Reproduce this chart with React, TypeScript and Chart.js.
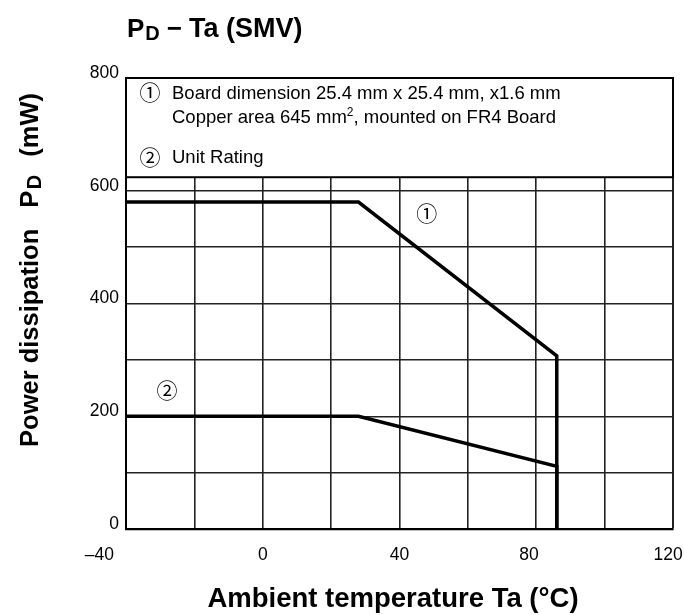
import React, { useEffect, useRef } from 'react';
import { Chart, registerables } from 'chart.js';

Chart.register(...registerables);

// ---- data ----
const curve1Ta = [-40, 28, 86, 86];
const curve1Pd = [580, 580, 307, 0];
const curve2Ta = [-40, 28, 86, 86];
const curve2Pd = [200, 200, 111, 0];

const xLabelValues = [-40, 0, 40, 80, 120];
const yLabelValues = [0, 200, 400, 600, 800];

const legendLine1 = 'Board dimension 25.4 mm x 25.4 mm, x1.6 mm';
const legendLine2a = 'Copper area 645 mm';
const legendLine2sup = '2';
const legendLine2b = ', mounted on FR4 Board';
const legendLine3 = 'Unit Rating';
const legendBoxBottomValue = 624;

const curve1Marker = { ta: 48, pd: 561, text: '\u2460' };
const curve2Marker = { ta: -28, pd: 246, text: '\u2461' };

const FONT = "'Liberation Sans', Arial, Helvetica, sans-serif";
const CIRCLE_FONT = "'Noto Sans CJK JP', 'DejaVu Sans', sans-serif";

// trailing spaces shift centred labels left (to mimic the reference placement)
const xLabelShiftSpaces: Record<string, number> = { '-40': 11, '80': 3, '120': 2 };

type Part = { t: string; font: string; dy: number; dx?: number };

function drawParts(ctx: CanvasRenderingContext2D, parts: Part[], x: number, y: number) {
  let cx = x;
  for (const p of parts) {
    cx += p.dx || 0;
    ctx.font = p.font;
    ctx.fillText(p.t, cx, y + p.dy);
    cx += ctx.measureText(p.t).width;
  }
  return cx;
}

function partsWidth(ctx: CanvasRenderingContext2D, parts: Part[]) {
  let w = 0;
  for (const p of parts) {
    ctx.font = p.font;
    w += (p.dx || 0) + ctx.measureText(p.t).width;
  }
  return w;
}

const annotatePlugin = {
  id: 'annotate',
  afterDraw(chart: any) {
    const { ctx, chartArea: a, scales } = chart;
    const xs = scales.x;
    const ys = scales.y;
    ctx.save();
    ctx.fillStyle = '#000';
    ctx.textAlign = 'left';
    ctx.textBaseline = 'alphabetic';

    // Legend box
    const top = ys.getPixelForValue(800);
    const bot = ys.getPixelForValue(legendBoxBottomValue);
    ctx.fillStyle = '#fff';
    ctx.fillRect(a.left, top, a.right - a.left, bot - top);
    ctx.strokeStyle = '#000';
    ctx.lineWidth = 2;
    ctx.strokeRect(a.left, top, a.right - a.left, bot - top);

    ctx.fillStyle = '#000';
    const lf = `18.5px ${FONT}`;
    const tx = a.left + 46;
    ctx.font = lf;
    ctx.fillText(legendLine1, tx, top + 20.5);
    drawParts(ctx, [
      { t: legendLine2a, font: lf, dy: 0 },
      { t: legendLine2sup, font: `12px ${FONT}`, dy: -7 },
      { t: legendLine2b, font: lf, dy: 0 },
    ], tx, top + 44.5);
    ctx.font = lf;
    ctx.fillText(legendLine3, tx, top + 84.5);

    ctx.font = `21px ${CIRCLE_FONT}`;
    ctx.textAlign = 'center';
    ctx.textBaseline = 'middle';
    ctx.fillText('\u2460', a.left + 24, top + 14.5);
    ctx.fillText('\u2461', a.left + 24, top + 79);

    // Curve markers
    for (const m of [curve1Marker, curve2Marker]) {
      ctx.fillText(m.text, xs.getPixelForValue(m.ta), ys.getPixelForValue(m.pd));
    }

    // Main title
    ctx.textAlign = 'left';
    ctx.textBaseline = 'alphabetic';
    drawParts(ctx, [
      { t: 'P', font: `bold 26px ${FONT}`, dy: 0 },
      { t: 'D', font: `bold 20px ${FONT}`, dy: 3, dx: 1 },
      { t: '\u2212', font: `bold 26px ${FONT}`, dy: 0, dx: 7 },
      { t: 'Ta (SMV)', font: `bold 27px ${FONT}`, dy: 0, dx: 7 },
    ], 127, 37);

    // Y axis title
    const yParts: Part[] = [
      { t: 'Power dissipation', font: `bold 25.5px ${FONT}`, dy: 0 },
      { t: 'P', font: `bold 25.5px ${FONT}`, dy: 0, dx: 21 },
      { t: 'D', font: `bold 20px ${FONT}`, dy: 3, dx: 1.5 },
      { t: '(mW)', font: `bold 25.5px ${FONT}`, dy: 0, dx: 18 },
    ];
    ctx.save();
    ctx.translate(38, 270);
    ctx.rotate(-Math.PI / 2);
    const w = partsWidth(ctx, yParts);
    drawParts(ctx, yParts, -w / 2, 0);
    ctx.restore();

    // X axis title
    ctx.font = `bold 27.5px ${FONT}`;
    ctx.textAlign = 'center';
    ctx.fillText('Ambient temperature Ta (\u00B0C)', 393, 607);

    ctx.restore();
  },
};

export default function App() {
  const ref = useRef<HTMLCanvasElement | null>(null);

  useEffect(() => {
    document.body.style.margin = '0';
    const canvas = ref.current;
    if (!canvas) return;
    const chart = new Chart(canvas, {
      type: 'line',
      data: {
        datasets: [
          {
            label: '\u2460',
            data: curve1Ta.map((x, i) => ({ x, y: curve1Pd[i] })),
            borderColor: '#000',
            borderWidth: 3.5,
            pointRadius: 0,
            tension: 0,
            fill: false,
            borderJoinStyle: 'miter',
          },
          {
            label: '\u2461',
            data: curve2Ta.map((x, i) => ({ x, y: curve2Pd[i] })),
            borderColor: '#000',
            borderWidth: 3.5,
            pointRadius: 0,
            tension: 0,
            fill: false,
            borderJoinStyle: 'miter',
          },
        ],
      },
      options: {
        responsive: false,
        animation: false,
        devicePixelRatio: 1,
        layout: { padding: { top: 78, right: 11, left: 0, bottom: 0 } },
        plugins: {
          legend: { display: false },
          tooltip: { enabled: false },
          title: { display: false },
        },
        scales: {
          x: {
            type: 'linear',
            min: -40,
            max: 120,
            afterFit(scale: any) {
              scale.height = 86;
              scale.paddingLeft = 0;
              scale.paddingRight = 0;
            },
            ticks: {
              stepSize: 20,
              autoSkip: false,
              maxRotation: 0,
              minRotation: 0,
              padding: 16,
              color: '#000',
              font: { family: FONT, size: 17.5 },
              callback: (v: any) => {
                const n = Number(v);
                if (!xLabelValues.includes(n)) return '';
                const txt = n < 0 ? '\u2013' + Math.abs(n) : String(n);
                const sp = xLabelShiftSpaces[String(n)] || 0;
                return txt + ' '.repeat(sp);
              },
            },
            grid: {
              color: '#222',
              lineWidth: (c: any) => (c.tick && c.tick.value === 120 ? 2 : 1.6),
              drawTicks: false,
            },
            border: { color: '#000', width: 2.3 },
          },
          y: {
            type: 'linear',
            min: 0,
            max: 800,
            afterFit(scale: any) {
              scale.width = 126;
            },
            ticks: {
              stepSize: 100,
              autoSkip: false,
              padding: 7,
              labelOffset: -5,
              color: '#000',
              font: { family: FONT, size: 17.5 },
              callback: (v: any) => (yLabelValues.includes(Number(v)) ? String(v) : ''),
            },
            grid: {
              color: '#222',
              lineWidth: (c: any) => (c.tick && c.tick.value === 800 ? 2 : 1.5),
              drawTicks: false,
            },
            border: { color: '#000', width: 2 },
          },
        },
      },
      plugins: [annotatePlugin],
    } as any);
    return () => chart.destroy();
  }, []);

  return (
    <canvas ref={ref} width={684} height={615} style={{ display: 'block' }} />
  );
}
